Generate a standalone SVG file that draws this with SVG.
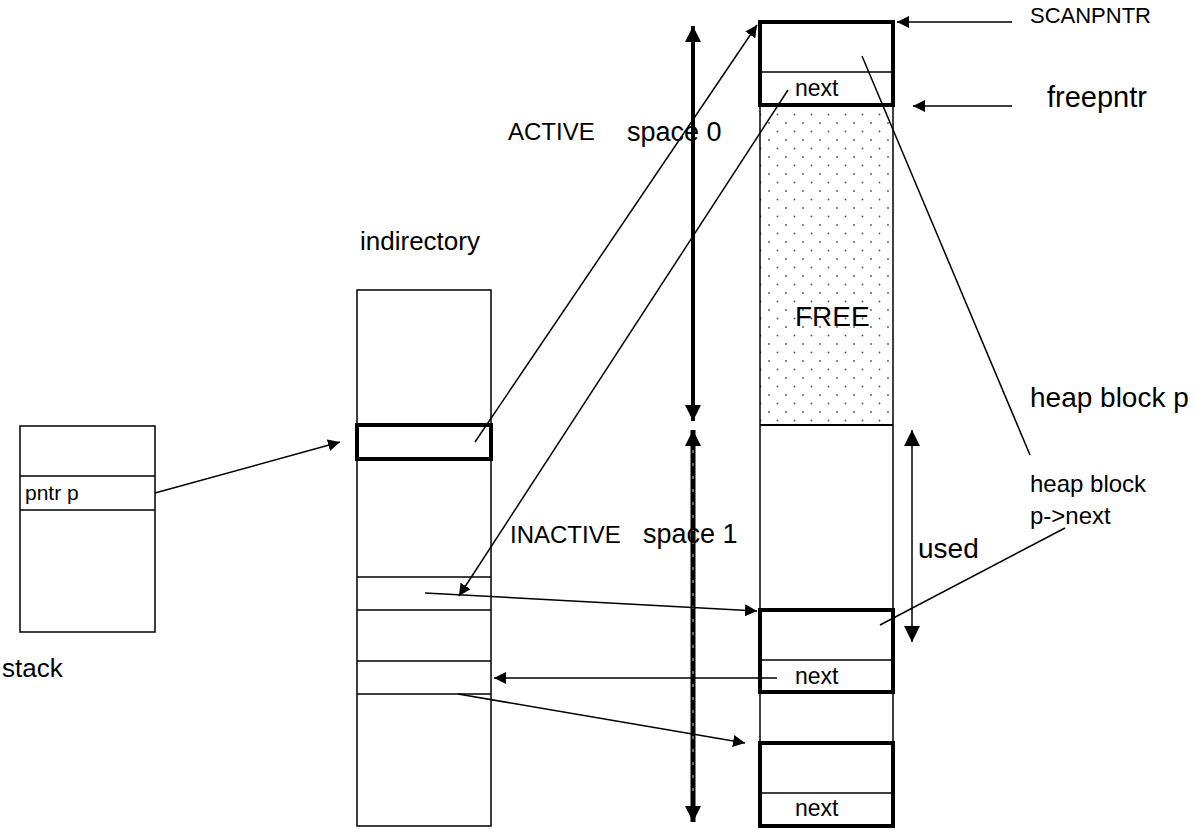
<svg xmlns="http://www.w3.org/2000/svg" width="1195" height="832" viewBox="0 0 1195 832">
<style>
text{font-family:"Liberation Sans",Arial,sans-serif;fill:#000}
.t{stroke:#000;stroke-width:1.5;fill:none}
.b{stroke:#000;stroke-width:4;fill:none}
.c{stroke:#000;stroke-width:1.5;fill:none}
.big{font-size:28px}
.sm{font-size:23px}
</style>
<defs>
<marker id="ah" viewBox="0 0 10 10" refX="10" refY="5" markerWidth="12" markerHeight="12" markerUnits="userSpaceOnUse" orient="auto"><path d="M0,0L10,5L0,10z" fill="#000"/></marker>
<marker id="ahb" viewBox="0 0 10 10" refX="10" refY="5" markerWidth="16" markerHeight="16" markerUnits="userSpaceOnUse" orient="auto-start-reverse"><path d="M0,0L10,5L0,10z" fill="#000"/></marker>
<pattern id="dots" width="17" height="17" patternUnits="userSpaceOnUse"><circle cx="4" cy="4" r="0.9" fill="#555"/><circle cx="12.5" cy="12.5" r="0.9" fill="#555"/></pattern>
</defs>
<rect width="1195" height="832" fill="#fff"/>

<g id="stack">
<rect x="20" y="426" width="135" height="206" class="t"/>
<line x1="20" y1="476" x2="155" y2="476" class="t"/>
<line x1="20" y1="510" x2="155" y2="510" class="t"/>
<text x="25" y="500" font-size="21">pntr p</text>
<text x="2" y="677" font-size="26">stack</text>
</g>

<g id="indirectory">
<rect x="357" y="290" width="134" height="536" class="t"/>
<rect x="357" y="425" width="134" height="34" class="b"/>
<line x1="357" y1="577" x2="491" y2="577" class="t"/>
<line x1="357" y1="610" x2="491" y2="610" class="t"/>
<line x1="357" y1="661" x2="491" y2="661" class="t"/>
<line x1="357" y1="694" x2="491" y2="694" class="t"/>
<text x="360" y="250" font-size="26">indirectory</text>
</g>

<g id="heap">
<rect x="760" y="105" width="133" height="320" fill="url(#dots)"/>
<rect x="760" y="22" width="133" height="804" class="t"/>
<line x1="760" y1="425" x2="893" y2="425" stroke="#000" stroke-width="2"/>
<rect x="760" y="22" width="133" height="83" class="b"/>
<line x1="760" y1="72" x2="893" y2="72" class="t"/>
<text x="795" y="96" class="sm">next</text>
<rect x="760" y="610" width="133" height="82" class="b"/>
<line x1="760" y1="660" x2="893" y2="660" class="t"/>
<text x="795" y="684" class="sm">next</text>
<rect x="760" y="743" width="133" height="83" class="b"/>
<line x1="760" y1="793" x2="893" y2="793" class="t"/>
<text x="795" y="816" class="sm">next</text>
<text x="795" y="326" class="big">FREE</text>
</g>

<g id="spaces">
<line x1="693" y1="26" x2="693" y2="421" stroke="#000" stroke-width="4" marker-start="url(#ahb)" marker-end="url(#ahb)"/>
<line x1="693" y1="430" x2="693" y2="822" stroke="#000" stroke-width="5" marker-start="url(#ahb)" marker-end="url(#ahb)"/>
<line x1="693" y1="450" x2="693" y2="800" stroke="#aaa" stroke-width="1.2" stroke-dasharray="3,10"/>
<text x="508" y="140" font-size="24">ACTIVE</text>
<text x="627" y="141" font-size="27">space 0</text>
<text x="510" y="543" font-size="24">INACTIVE</text>
<text x="643" y="543" font-size="27">space 1</text>
</g>

<g id="labels">
<text x="1030" y="23" font-size="22">SCANPNTR</text>
<text x="1047" y="107" font-size="29">freepntr</text>
<text x="1030" y="407" class="big">heap block p</text>
<text x="1030" y="492" font-size="24">heap block</text>
<text x="1030" y="524" font-size="24">p-&gt;next</text>
<text x="918" y="558" class="big">used</text>
</g>

<g id="connectors">
<line x1="155" y1="493" x2="340" y2="442" class="c" marker-end="url(#ah)"/>
<line x1="475" y1="442" x2="757" y2="25" class="c" marker-end="url(#ah)"/>
<line x1="788" y1="90" x2="459" y2="596" class="c" marker-end="url(#ah)"/>
<line x1="425" y1="593" x2="757" y2="611" class="c" marker-end="url(#ah)"/>
<line x1="777" y1="678" x2="494" y2="678" class="c" marker-end="url(#ah)"/>
<line x1="458" y1="694" x2="745" y2="743" class="c" marker-end="url(#ah)"/>
<line x1="1012" y1="22" x2="897" y2="22" class="c" marker-end="url(#ah)"/>
<line x1="1012" y1="106" x2="913" y2="106" class="c" marker-end="url(#ah)"/>
<line x1="862" y1="56" x2="1030" y2="455" class="c"/>
<line x1="880" y1="625" x2="1065" y2="528" class="c"/>
<line x1="912" y1="430" x2="912" y2="642" class="c" marker-start="url(#ahb)" marker-end="url(#ahb)"/>
</g>
</svg>
